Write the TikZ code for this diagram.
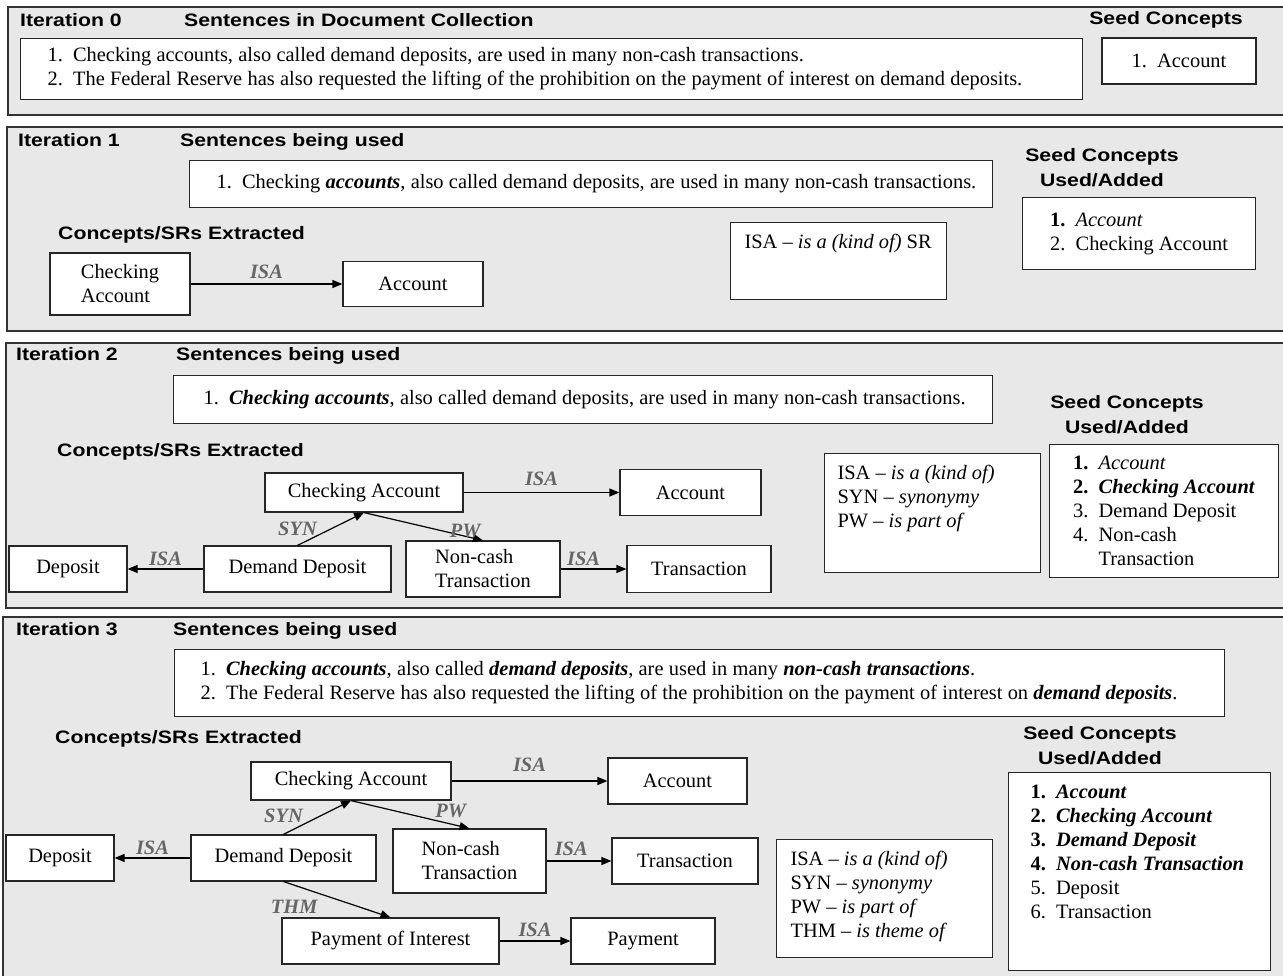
\documentclass[tikz,border=0pt]{standalone}
\usepackage{fontspec}
\setmainfont{Liberation Serif}
\newfontfamily\headfont[FakeStretch=1.18]{Liberation Sans}
\usetikzlibrary{arrows.meta,positioning}
\newcommand{\sentspace}{\spaceskip=5.3pt\relax}

\begin{document}
\begin{tikzpicture}[x=1pt,y=-1pt,>={Triangle[length=10pt,width=8pt]},
  panel/.style={draw=black!80,fill=black!9,line width=1.2pt},
  head/.style={font=\headfont\bfseries\fontsize{18}{25}\selectfont,inner sep=0pt},
  box/.style={draw=black!85,fill=white,line width=1.2pt,inner sep=0pt,
    font=\fontsize{20.4}{24}\selectfont},
  sentbox/.style={box,anchor=north west,align=left,execute at begin node=\sentspace},
  rel/.style={->,line width=1.2pt},
  lbl/.style={font=\fontsize{20.4}{24}\selectfont\bfseries\itshape,text=black!60,inner sep=0pt}]

\useasboundingbox (0,0) rectangle (1283,976);
\clip (0,0) rectangle (1283,976);

% Draw panels
\draw[panel] (8,7) rectangle (1295,115);
\draw[panel] (7,127) rectangle (1295,331);
\draw[panel] (6,343) rectangle (1295,608);
\draw[panel] (3,617) rectangle (1295,990);

% Iteration 0
\node[head,anchor=base west] (it0) at (20,27) {Iteration 0};
\node[head,anchor=base west] (sents0) at (184,27) {Sentences in Document Collection};
\node[head,anchor=base] (seedh0) at (1166,25) {Seed Concepts};
\node[sentbox,minimum height=61pt,text width=1008pt,inner xsep=27pt] (sent0) at (20,38)
  {\mbox{1.\enspace Checking accounts, also called demand deposits, are used in many non-cash transactions.}\\
   \mbox{2.\enspace The Federal Reserve has also requested the lifting of the prohibition on the payment of interest on demand deposits.}};
\node[box,minimum width=154pt,minimum height=46pt] (seed0) at (1179,61) {1.\enspace Account};

% Iteration 1
\node[head,anchor=base west] (it1) at (18,147) {Iteration 1};
\node[head,anchor=base west] (sents1) at (180,147) {Sentences being used};
\node[sentbox,minimum height=47pt,text width=749pt,inner xsep=27pt] (sent1) at (189,160)
  {\mbox{1.\enspace Checking \textbf{\textit{accounts}}, also called demand deposits, are used in many non-cash transactions.}};
\node[head,anchor=base west] (ext1) at (58,240) {Concepts/SRs Extracted};
\node[box,minimum width=140pt,minimum height=62pt,align=left] (ca1) at (120,284) {Checking\\Account};
\node[box,minimum width=140pt,minimum height=45pt] (acc1) at (413,284) {Account};
\draw[rel] (ca1) -- (acc1) node[lbl,midway,above=5pt] {ISA};
\node[box,anchor=north west,inner xsep=14pt,inner ysep=12pt] (key1) at (730,222)
  {\parbox[c][53pt][t]{188pt}{\raggedright ISA -- \textit{is a (kind of)} SR}};
\node[head,anchor=north,align=center] (seedh1) at (1102,148) {Seed Concepts\\Used/Added};
\node[box,anchor=north west,minimum width=233pt,minimum height=72pt,align=left] (seed1) at (1022,197)
  {\textbf{1.}\enspace\textit{Account}\\2.\enspace Checking Account};

% Iteration 2
\node[head,anchor=base west] (it2) at (16,361) {Iteration 2};
\node[head,anchor=base west] (sents2) at (176,361) {Sentences being used};
\node[sentbox,minimum height=48pt,text width=759pt,inner xsep=30pt] (sent2) at (173,375)
  {\mbox{1.\enspace\textbf{\textit{Checking accounts}}, also called demand deposits, are used in many non-cash transactions.}};
\node[head,anchor=base west] (ext2) at (57,456) {Concepts/SRs Extracted};
\node[box,minimum width=198pt,minimum height=39pt] (ca2) at (364,492.5) {Checking Account};
\node[box,minimum width=141pt,minimum height=46pt] (acc2) at (690.5,492.5) {Account};
\node[box,minimum width=118pt,minimum height=46pt] (dep2) at (68,569) {Deposit};
\node[box,minimum width=187pt,minimum height=46pt] (dd2) at (297.5,569) {Demand Deposit};
\node[box,minimum width=154pt,minimum height=56pt,align=left] (nct2) at (483,569) {Non-cash\\Transaction};
\node[box,minimum width=144pt,minimum height=47pt] (tr2) at (699,569) {Transaction};
\draw[rel] (ca2) -- (acc2) node[lbl,midway,above=6pt] {ISA};
\draw[rel] (dd2) -- (dep2) node[lbl,midway,above=3pt] {ISA};
\draw[rel] (nct2) -- (tr2) node[lbl,pos=0.35,above=3pt] {ISA};
\draw[rel] (dd2.north) -- (ca2.south) node[lbl,pos=0,above=9pt] {SYN};
\draw[rel] (ca2.south) -- (nct2.north) node[lbl,pos=1,above left=2pt and 2pt] {PW};
\node[box,anchor=north west,inner xsep=13pt,inner ysep=12pt] (key2) at (824,453)
  {\parbox[c][95pt][t]{190pt}{\raggedright ISA -- \textit{is a (kind of)}\\SYN -- \textit{synonymy}\\PW -- \textit{is part of}}};
\node[head,anchor=north,align=center] (seedh2) at (1127,395) {Seed Concepts\\Used/Added};
\node[box,anchor=north west,minimum width=229pt,minimum height=133pt,align=left] (seed2) at (1049,444)
  {\textbf{1.}\enspace\textit{Account}\\\textbf{2.}\enspace\textbf{\textit{Checking Account}}\\3.\enspace Demand Deposit\\4.\enspace Non-cash\\\phantom{4.}\enspace Transaction};

% Iteration 3
\node[head,anchor=base west] (it3) at (16,635) {Iteration 3};
\node[head,anchor=base west] (sents3) at (173,635) {Sentences being used};
\node[sentbox,minimum height=67pt,text width=998pt,inner xsep=26pt] (sent3) at (174,649)
  {\mbox{1.\enspace\textbf{\textit{Checking accounts}}, also called \textbf{\textit{demand deposits}}, are used in many \textbf{\textit{non-cash transactions}}.}\\
   \mbox{2.\enspace The Federal Reserve has also requested the lifting of the prohibition on the payment of interest on \textbf{\textit{demand deposits}}.}};
\node[head,anchor=base west] (ext3) at (55,743) {Concepts/SRs Extracted};
\node[box,minimum width=200pt,minimum height=38pt] (ca3) at (351,781) {Checking Account};
\node[box,minimum width=139pt,minimum height=46pt] (acc3) at (677.5,781) {Account};
\node[box,minimum width=108pt,minimum height=46pt] (dep3) at (60,858) {Deposit};
\node[box,minimum width=185pt,minimum height=46pt] (dd3) at (283.5,858) {Demand Deposit};
\node[box,minimum width=153pt,minimum height=64pt,align=left] (nct3) at (469.5,861) {Non-cash\\Transaction};
\node[box,minimum width=146pt,minimum height=46pt] (tr3) at (685,861) {Transaction};
\node[box,minimum width=217pt,minimum height=46pt] (poi3) at (390.5,941) {Payment of Interest};
\node[box,minimum width=144pt,minimum height=46pt] (pay3) at (643,941) {Payment};
\draw[rel] (ca3) -- (acc3) node[lbl,midway,above=9pt] {ISA};
\draw[rel] (dd3) -- (dep3) node[lbl,midway,above=3pt] {ISA};
\draw[rel] (nct3) -- (tr3) node[lbl,pos=0.38,above=5pt] {ISA};
\draw[rel] (poi3) -- (pay3) node[lbl,midway,above=4pt] {ISA};
\draw[rel] (dd3.north) -- (ca3.south) node[lbl,pos=0,above=11pt] {SYN};
\draw[rel] (ca3.south) -- (nct3.north) node[lbl,pos=1,above left=10pt and 3pt] {PW};
\draw[rel] (dd3.south) -- (poi3.north) node[lbl,pos=0.1,below=14.5pt] {THM};
\node[box,anchor=north west,inner xsep=14pt,inner ysep=12pt] (key3) at (776,839)
  {\parbox[c][94pt][t]{188pt}{\raggedright ISA -- \textit{is a (kind of)}\\SYN -- \textit{synonymy}\\PW -- \textit{is part of}\\THM -- \textit{is theme of}}};
\node[head,anchor=north,align=center] (seedh3) at (1100,726) {Seed Concepts\\Used/Added};
\node[box,anchor=north west,inner xsep=22pt,inner ysep=12pt] (seed3) at (1008,772)
  {\parbox[c][174pt][t]{218pt}{\raggedright \textbf{1.}\enspace\textbf{\textit{Account}}\\\textbf{2.}\enspace\textbf{\textit{Checking Account}}\\\textbf{3.}\enspace\textbf{\textit{Demand Deposit}}\\\textbf{4.}\enspace\textbf{\textit{Non-cash Transaction}}\\5.\enspace Deposit\\6.\enspace Transaction}};

\end{tikzpicture}
\end{document}
